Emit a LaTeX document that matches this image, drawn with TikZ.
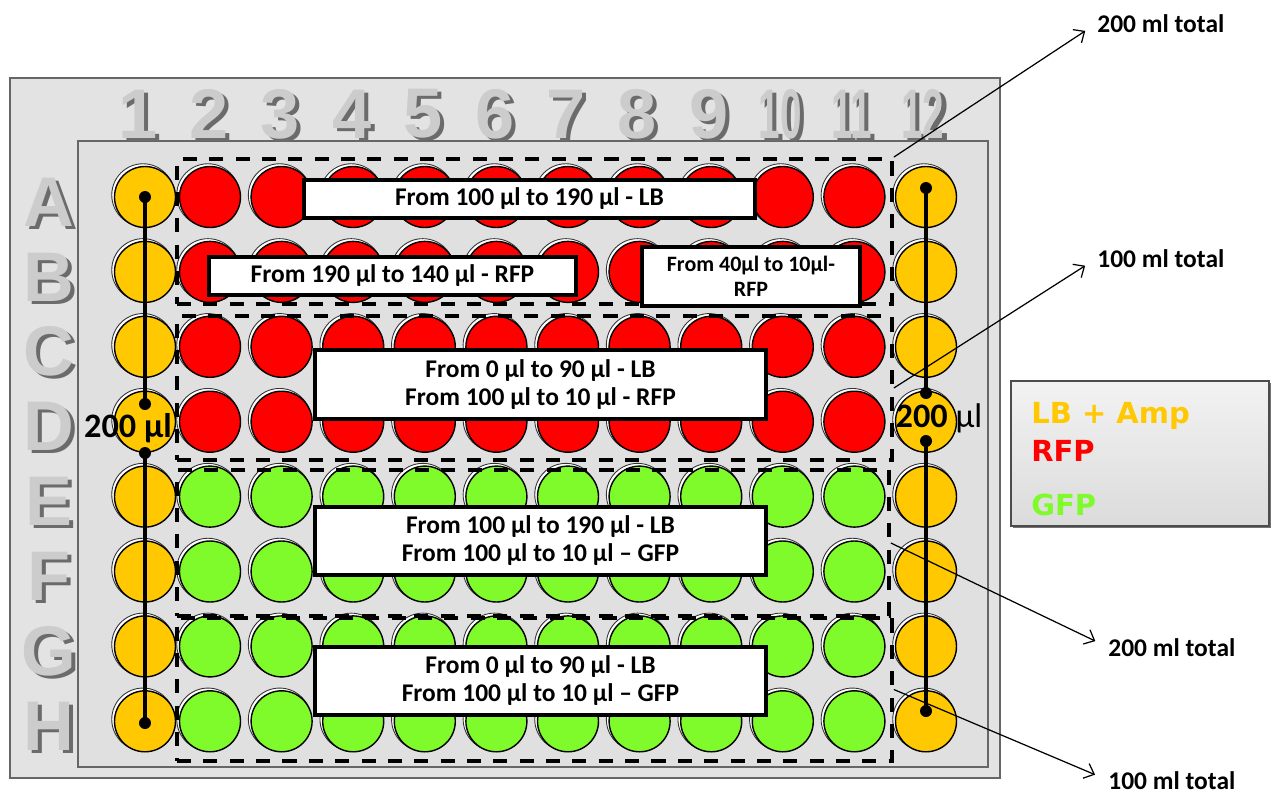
\documentclass[tikz,border=0pt]{standalone}
\usepackage{fontspec}
\setmainfont{Carlito}
\newfontfamily\wordart{Liberation Sans}
\newfontfamily\keyfont{DejaVu Sans}
\usetikzlibrary{positioning, calc, arrows.meta, shadows}
\definecolor{Amp}{HTML}{FFC800}
\definecolor{Rfp}{HTML}{FF0000}
\definecolor{Gfp}{HTML}{7FFA2A}
\definecolor{PlateOut}{HTML}{E3E3E3}
\definecolor{PlateIn}{HTML}{E0E0E0}
\definecolor{Rim}{HTML}{666666}
\tikzset{
    well/.style={circle, draw=black, line width=0.8pt, minimum size=1.22cm, inner sep=0pt},
    ring/.style={circle, draw=black!80, fill=white, line width=0.5pt, minimum size=1.25cm, inner sep=0pt},
    zone/.style={rectangle, draw=black, line width=2.2pt, dash pattern=on 8pt off 7pt, inner sep=0pt},
    infobox/.style={rectangle, draw=black, line width=2.2pt, fill=white, align=center, inner sep=0pt, font=\bfseries\fontsize{14.5}{16}\selectfont},
    stud/.style={circle, fill=black, inner sep=0pt, minimum size=0.24cm},
    rod/.style={line width=2.4pt, draw=black},
    leader/.style={-{Straight Barb[length=5pt,width=9pt]}, line width=0.7pt, shorten >=8pt},
    total/.style={font=\bfseries\fontsize{14.5}{16}\selectfont, inner sep=0pt, anchor=base west},
    plabel/.style={font=\wordart\bfseries\fontsize{40}{40}\selectfont, text=black!20, inner sep=0pt},
    pshade/.style={plabel, text=black!58},
    keybox/.style={rectangle, draw=black!70, line width=1.2pt, top color=white!95!black, bottom color=white!86!black, drop shadow={shadow xshift=1.2pt, shadow yshift=-1.2pt, fill=black!55, opacity=1}},
    keytext/.style={font=\keyfont\bfseries\fontsize{16.5}{18}\selectfont, inner sep=0pt, anchor=base west},
    vol/.style={font=\fontsize{19.5}{20}\selectfont, inner sep=0pt, anchor=base},
}

\begin{document}
\begin{tikzpicture}[x=0.02cm, y=-0.02cm]
    \useasboundingbox (0,0) rectangle (1276,795);
    \fill[white] (0,0) rectangle (1276,795);

    % piastra
    \draw[Rim, line width=1pt, fill=PlateOut] (10,78) rectangle (1000,778);
    \draw[Rim, line width=0.8pt, fill=PlateIn] (78,141) rectangle (988,767);

    % numeri di colonna e lettere di riga
    \foreach \c in {1,...,12} {
        \pgfmathsetmacro{\lx}{\c==1 ? 138 : 209+(\c-2)*71.4}
        \ifnum\c>9 \def\sq{0.55}\else\def\sq{1}\fi
        \node[pshade, xscale=\sq] (cs\c) at (\lx+4,117) {\c};
        \node[plabel, xscale=\sq] (cl\c) at (\lx,114) {\c};
    }
    \foreach \r/\L in {0/A,1/B,2/C,3/D,4/E,5/F,6/G,7/H} {
        \pgfmathsetmacro{\ly}{202+\r*74.9}
        \node[pshade] (rs\L) at (53,\ly+3) {\L};
        \node[plabel] (rl\L) at (49,\ly) {\L};
    }

    % pozzetti
    \foreach \r/\tint in {0/Rfp,1/Rfp,2/Rfp,3/Rfp,4/Gfp,5/Gfp,6/Gfp,7/Gfp} {
        \foreach \c in {1,...,12} {
            \pgfmathsetmacro{\wx}{\c==1 ? 145 : 210+(\c-2)*71.6}
            \pgfmathsetmacro{\wy}{197+\r*74.9}
            \ifnum\c=1 \def\fc{Amp}\else\ifnum\c=12 \def\fc{Amp}\else\edef\fc{\tint}\fi\fi
            \node[ring] (r\r-\c) at (\wx-2,\wy-2) {};
            \node[well, fill=\fc] (w\r-\c) at (\wx,\wy) {};
        }
    }

    % zone tratteggiate
    \node[zone, minimum width=14.3cm, minimum height=2.9cm] (zone1) at (534.5,231.5) {};
    \node[zone, minimum width=14.3cm, minimum height=2.88cm] (zone2) at (534.5,388) {};
    \node[zone, minimum width=14.24cm, minimum height=2.92cm] (zone3) at (533,543) {};
    \node[zone, minimum width=14.3cm, minimum height=2.86cm] (zone4) at (534.5,689.5) {};

    % colonne 1 e 12
    \node[stud] (a1) at (145,197) {};
    \node[stud] (a2) at (145,404) {};
    \node[stud] (a3) at (145,453) {};
    \node[stud] (a4) at (145,723) {};
    \node[stud] (b1) at (926,188) {};
    \node[stud] (b2) at (926,393) {};
    \node[stud] (b3) at (926,441) {};
    \node[stud] (b4) at (926,711) {};
    \draw[rod] (a1.center) -- (a2.center);
    \draw[rod] (a3.center) -- (a4.center);
    \draw[rod] (b1.center) -- (b2.center);
    \draw[rod] (b3.center) -- (b4.center);
    \node[vol, font=\bfseries\fontsize{19.5}{20}\selectfont] (vola) at (128,437) {200 µl};
    \node[vol] (volb) at (939,427) {\textbf{200} µl};

    % riquadri
    \node[infobox, minimum width=9.02cm, minimum height=0.76cm] (lb1) at (529.5,199) {From 100 µl to 190 µl - LB};
    \node[infobox, minimum width=7.34cm, minimum height=0.76cm] (rfp1) at (392.5,276) {From 190 µl to 140 µl - RFP};
    \node[infobox, minimum width=4.36cm, minimum height=1.18cm, font=\bfseries\fontsize{12.5}{14}\selectfont] (rfp2) at (751,276.5) {From 40µl to 10µl-\\RFP};
    \node[infobox, minimum width=9.02cm, minimum height=1.38cm] (mix1) at (540.5,384.5) {From 0 µl to 90 µl - LB\\From 100 µl to 10 µl - RFP};
    \node[infobox, minimum width=9.02cm, minimum height=1.36cm] (mix2) at (540.5,541) {From 100 µl to 190 µl - LB\\From 100 µl to 10 µl – GFP};
    \node[infobox, minimum width=9.02cm, minimum height=1.36cm] (mix3) at (540.5,681) {From 0 µl to 90 µl - LB\\From 100 µl to 10 µl – GFP};

    % totali
    \node[total] (tot1) at (1097,32) {200 ml total};
    \node[total] (tot2) at (1097,267) {100 ml total};
    \node[total] (tot3) at (1108,656) {200 ml total};
    \node[total] (tot4) at (1108,789) {100 ml total};
    \draw[leader] (zone1.north east) -- (tot1.west);
    \draw[leader] (zone2.east) -- (tot2.west);
    \draw[leader] (zone3.east) -- (tot3.west);
    \draw[leader] (zone4.east) -- (tot4.west);

    % legenda
    \node[keybox, minimum width=5.16cm, minimum height=2.9cm] (key) at (1140,453.5) {};
    \node[keytext, text=Amp] (kamp) at (1031,423) {LB + Amp};
    \node[keytext, text=Rfp] (krfp) at (1031,461) {RFP};
    \node[keytext, text=Gfp] (kgfp) at (1031,515) {GFP};
\end{tikzpicture}
\end{document}
